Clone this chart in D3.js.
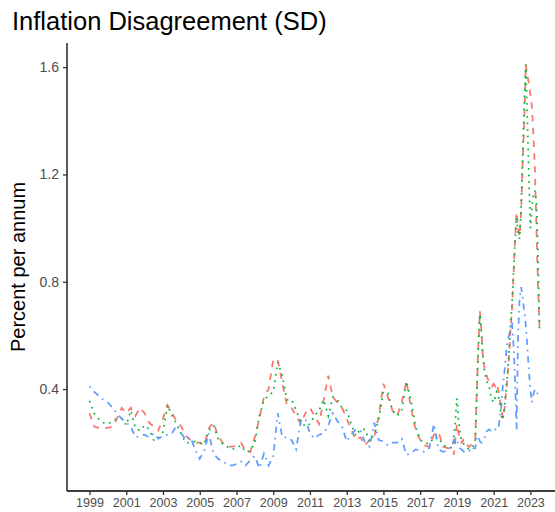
<!DOCTYPE html>
<html>
<head>
<meta charset="utf-8">
<script src="https://cdn.jsdelivr.net/npm/d3@7"></script>
<style>
  body { margin: 0; background: #fff; }
  svg { display: block; font-family: "Liberation Sans", Arial, Helvetica, sans-serif; }
</style>
</head>
<body>
<div id="chart"></div>
<script>
// quarterly observations up to mid 2018, monthly after that
const dates = [
  "1999-01","1999-04","1999-07","1999-10","2000-01","2000-04","2000-07","2000-10",
  "2001-01","2001-04","2001-07","2001-10","2002-01","2002-04","2002-07","2002-10",
  "2003-01","2003-04","2003-07","2003-10","2004-01","2004-04","2004-07","2004-10",
  "2005-01","2005-04","2005-07","2005-10","2006-01","2006-04","2006-07","2006-10",
  "2007-01","2007-04","2007-07","2007-10","2008-01","2008-04","2008-07","2008-10",
  "2009-01","2009-04","2009-07","2009-10","2010-01","2010-04","2010-07","2010-10",
  "2011-01","2011-04","2011-07","2011-10","2012-01","2012-04","2012-07","2012-10",
  "2013-01","2013-04","2013-07","2013-10","2014-01","2014-04","2014-07","2014-10",
  "2015-01","2015-04","2015-07","2015-10","2016-01","2016-04","2016-07","2016-10",
  "2017-01","2017-04","2017-07","2017-10","2018-01","2018-04","2018-07",
  "2018-10","2018-11","2018-12",
  "2019-01","2019-02","2019-03","2019-04","2019-05","2019-06","2019-07","2019-08","2019-09","2019-10","2019-11","2019-12",
  "2020-01","2020-02","2020-03","2020-04","2020-05","2020-06","2020-07","2020-08","2020-09","2020-10","2020-11","2020-12",
  "2021-01","2021-02","2021-03","2021-04","2021-05","2021-06","2021-07","2021-08","2021-09","2021-10","2021-11","2021-12",
  "2022-01","2022-02","2022-03","2022-04","2022-05","2022-06","2022-07","2022-08","2022-09","2022-10","2022-11","2022-12",
  "2023-01","2023-02","2023-03","2023-04","2023-05","2023-06","2023-07"
];

// red, dashed
const dashedSeries = [
  0.31, 0.26, 0.255, 0.255,  0.255, 0.26, 0.29, 0.33,  0.31, 0.33, 0.30, 0.33,
  0.31, 0.275, 0.26, 0.245,  0.29, 0.34, 0.31, 0.28,  0.26, 0.225, 0.21, 0.20,
  0.20, 0.19, 0.255, 0.275,  0.225, 0.20, 0.185, 0.185,  0.19, 0.20, 0.17, 0.165,
  0.22, 0.29, 0.37, 0.40,  0.51, 0.51, 0.42, 0.34,  0.33, 0.30, 0.27, 0.31,
  0.33, 0.30, 0.27, 0.36,  0.45, 0.37, 0.35, 0.33,  0.29, 0.25, 0.21, 0.22,
  0.19, 0.21, 0.22, 0.30,  0.42, 0.37, 0.32, 0.30,  0.35, 0.43, 0.33, 0.25,
  0.21, 0.19, 0.185, 0.23,  0.24, 0.185, 0.18,
  0.17, 0.155, 0.21,
  0.27, 0.24, 0.21, 0.20, 0.21, 0.195, 0.185, 0.19, 0.185, 0.19, 0.195, 0.20,
  0.22, 0.40, 0.56, 0.69, 0.62, 0.52, 0.48, 0.46, 0.44, 0.43, 0.42, 0.41,
  0.42, 0.41, 0.42, 0.40, 0.36, 0.33, 0.29, 0.32, 0.38, 0.44, 0.52, 0.62,
  0.70, 0.83, 0.95, 1.06, 1.00, 0.97, 1.06, 1.25, 1.40, 1.61, 1.57, 1.54,
  1.50, 1.45, 1.35, 1.22, 1.00, 0.78, 0.63
];

// green, dotted
const dottedSeries = [
  0.356, 0.31, 0.29, 0.275,  0.27, 0.28, 0.29, 0.29,  0.265, 0.32, 0.255, 0.245,
  0.265, 0.25, 0.21, 0.215,  0.24, 0.34, 0.30, 0.27,  0.23, 0.20, 0.20, 0.205,
  0.20, 0.195, 0.245, 0.265,  0.215, 0.196, 0.185, 0.175,  0.18, 0.19, 0.165, 0.17,
  0.20, 0.30, 0.36, 0.375,  0.39, 0.50, 0.45, 0.36,  0.36, 0.32, 0.28, 0.26,
  0.27, 0.30, 0.32, 0.36,  0.30, 0.37, 0.36, 0.33,  0.32, 0.27, 0.225, 0.25,
  0.25, 0.205, 0.23, 0.29,  0.39, 0.385, 0.32, 0.30,  0.32, 0.43, 0.36, 0.26,
  0.21, 0.20, 0.195, 0.22,  0.22, 0.19, 0.185,
  0.18, 0.22, 0.28,
  0.365, 0.29, 0.24, 0.21, 0.20, 0.19, 0.185, 0.18, 0.175, 0.18, 0.185, 0.19,
  0.21, 0.39, 0.55, 0.68, 0.61, 0.52, 0.47, 0.44, 0.42, 0.41, 0.38, 0.36,
  0.35, 0.37, 0.39, 0.38, 0.34, 0.30, 0.285, 0.33, 0.39, 0.45, 0.53, 0.63,
  0.72, 0.84, 0.95, 1.04, 0.98, 0.96, 1.08, 1.27, 1.46, 1.61, 1.40, 1.20,
  1.00, 1.08, 1.12, 1.14, 1.10, 0.90, 0.62
];

// blue, dot-dash
const dotdashSeries = [
  0.41, 0.39, 0.375, 0.36,  0.35, 0.33, 0.31, 0.29,  0.275, 0.26, 0.22, 0.225,
  0.23, 0.22, 0.235, 0.215,  0.225, 0.23, 0.235, 0.265,  0.235, 0.21, 0.22, 0.175,
  0.14, 0.17, 0.235, 0.16,  0.14, 0.13, 0.12, 0.115,  0.12, 0.13, 0.115, 0.135,
  0.15, 0.105, 0.16, 0.115,  0.15, 0.31, 0.22, 0.22,  0.21, 0.175, 0.28, 0.29,
  0.235, 0.215, 0.23, 0.235,  0.265, 0.31, 0.28, 0.26,  0.205, 0.23, 0.25, 0.245,
  0.20, 0.185, 0.275, 0.21,  0.205, 0.19, 0.20, 0.20,  0.215, 0.155, 0.16, 0.175,
  0.17, 0.166, 0.18, 0.27,  0.175, 0.166, 0.17,
  0.195, 0.21, 0.20,
  0.21, 0.19, 0.18, 0.175, 0.17, 0.165, 0.17, 0.17, 0.17, 0.175, 0.17, 0.18,
  0.18, 0.22, 0.225, 0.205, 0.20, 0.21, 0.215, 0.24, 0.245, 0.25, 0.245, 0.25,
  0.245, 0.25, 0.25, 0.25, 0.29, 0.33, 0.41, 0.46, 0.52, 0.58, 0.60, 0.63,
  0.65, 0.56, 0.44, 0.25, 0.60, 0.74, 0.78, 0.74, 0.69, 0.64, 0.56, 0.47,
  0.40, 0.35, 0.38, 0.40, 0.39, 0.38, 0.37
];

const yTicks = [0.4, 0.8, 1.2, 1.6];
const xTickYears = [1999, 2001, 2003, 2005, 2007, 2009, 2011, 2013, 2015, 2017, 2019, 2021, 2023];
const yLimits = [0.02, 1.69];

const width = 555, height = 512;
const margin = { top: 43, right: -7, bottom: 21, left: 67 };

const parse = d3.timeParse("%Y-%m");
const makeSeries = (vals) => dates.map((d, i) => ({ date: parse(d), v: vals[i] }));

const series = [
  { values: makeSeries(dashedSeries), color: "#F8766D", dash: "6.4,6.4" },
  { values: makeSeries(dottedSeries), color: "#00BA38", dash: "1.7,4.8" },
  { values: makeSeries(dotdashSeries), color: "#619CFF", dash: "1.7,4.8,6.4,4.8" }
];

// ggplot style 5% expansion of the date range
const ext = d3.extent(dates, parse);
const pad = (ext[1] - ext[0]) * 0.05;
const x = d3.scaleTime()
  .domain([new Date(+ext[0] - pad), new Date(+ext[1] + pad)])
  .range([margin.left, width - margin.right]);

const y = d3.scaleLinear()
  .domain(yLimits)
  .range([height - margin.bottom, margin.top]);

const svg = d3.select("#chart").append("svg")
  .attr("width", width)
  .attr("height", height);

svg.append("rect").attr("width", width).attr("height", height).attr("fill", "#fff");

const line = d3.line()
  .x((d) => x(d.date))
  .y((d) => y(d.v));

svg.append("g")
  .selectAll("path")
  .data(series)
  .join("path")
  .attr("d", (s) => line(s.values))
  .attr("fill", "none")
  .attr("stroke", (s) => s.color)
  .attr("stroke-width", 1.75)
  .attr("stroke-dasharray", (s) => s.dash);

// axes
const xAxis = d3.axisBottom(x)
  .tickValues(xTickYears.map((yr) => new Date(yr, 0, 1)))
  .tickFormat(d3.timeFormat("%Y"))
  .tickSize(4)
  .tickPadding(3);

const yAxis = d3.axisLeft(y)
  .tickValues(yTicks)
  .tickFormat(d3.format(".1f"))
  .tickSize(4)
  .tickPadding(4);

const gx = svg.append("g")
  .attr("transform", `translate(0,${height - margin.bottom})`)
  .call(xAxis);
gx.select(".domain").attr("d", `M${margin.left},0H${width}`);

const gy = svg.append("g")
  .attr("transform", `translate(${margin.left},0)`)
  .call(yAxis);
gy.select(".domain").attr("d", `M0,${margin.top}V${height - margin.bottom}`);

[gx, gy].forEach((g) => {
  g.select(".domain").attr("stroke", "#000").attr("stroke-width", 1.3);
  g.selectAll(".tick line").attr("stroke", "#333").attr("stroke-width", 1.3);
  g.selectAll(".tick text").attr("fill", "#4D4D4D");
});
gx.selectAll(".tick text").attr("font-size", 12.5);
gy.selectAll(".tick text").attr("font-size", 14);

// titles
svg.append("text")
  .attr("x", 12)
  .attr("y", 30)
  .attr("font-size", 25.5)
  .attr("fill", "#000")
  .text("Inflation Disagreement (SD)");

svg.append("text")
  .attr("transform", `translate(25,${(margin.top + height - margin.bottom) / 2}) rotate(-90)`)
  .attr("text-anchor", "middle")
  .attr("font-size", 20)
  .attr("fill", "#000")
  .text("Percent per annum");
</script>
</body>
</html>
